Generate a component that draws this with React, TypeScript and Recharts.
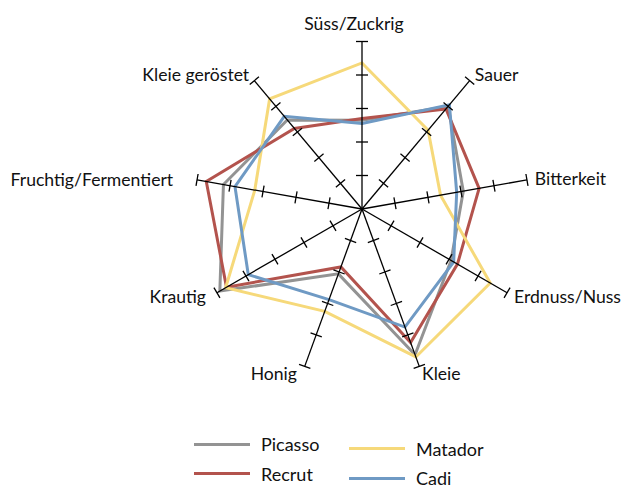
import { RadarChart, Radar, PolarAngleAxis, PolarRadiusAxis, Legend } from "recharts";

const AXES = [
  "Süss/Zuckrig",
  "Sauer",
  "Bitterkeit",
  "Erdnuss/Nuss",
  "Kleie",
  "Honig",
  "Krautig",
  "Fruchtig/Fermentiert",
  "Kleie geröstet",
];

const PICASSO = [2.65, 4.0, 3.07, 3.07, 4.63, 2.06, 4.9, 4.2, 3.47];
const RECRUT = [2.7, 3.9, 3.55, 3.29, 4.24, 1.84, 4.67, 4.72, 3.14];
const MATADOR = [4.36, 3.07, 2.38, 4.42, 4.7, 3.25, 4.7, 3.25, 4.29];
const CADI = [2.55, 4.06, 2.87, 3.16, 3.75, 2.88, 3.92, 3.85, 3.61];

const SERIES = [
  { key: "Picasso", color: "#939393" },
  { key: "Recrut", color: "#b3534d" },
  { key: "Matador", color: "#f6d97a" },
  { key: "Cadi", color: "#6f9ac4" },
];

const data = AXES.map((axis, i) => ({
  axis,
  Picasso: PICASSO[i],
  Recrut: RECRUT[i],
  Matador: MATADOR[i],
  Cadi: CADI[i],
}));

const FONT = "Lato, 'Liberation Sans', sans-serif";

// small label nudges, the original places some labels a bit off the spoke end
const NUDGE: Record<string, [number, number]> = {
  "Süss/Zuckrig": [-8, 0],
  "Fruchtig/Fermentiert": [-16, 1],
  Krautig: [-4, 0],
  Honig: [-5, 0],
};

// eslint-disable-next-line @typescript-eslint/no-explicit-any
function AngleTick({ x, y, textAnchor, payload }: any) {
  const [dx, dy] = NUDGE[payload.value] ?? [0, 0];
  const top = textAnchor === "middle" && y < 209;
  return (
    <text
      x={x + dx}
      y={top ? y - 4 + dy : y + dy}
      textAnchor={textAnchor}
      dominantBaseline={top ? "auto" : "central"}
      fontFamily={FONT}
      fontSize={17.6}
      fill="#111"
    >
      {payload.value}
    </text>
  );
}

function makeSpokeTick(angle: number) {
  const rad = (angle * Math.PI) / 180;
  // perpendicular to the spoke, in screen coords
  const px = Math.sin(rad);
  const py = Math.cos(rad);
  const h = 6;
  // eslint-disable-next-line @typescript-eslint/no-explicit-any
  return function SpokeTick({ x, y, payload }: any) {
    if (payload.value === 0) return <g />;
    return (
      <line
        x1={x - px * h}
        y1={y - py * h}
        x2={x + px * h}
        y2={y + py * h}
        stroke="#000"
        strokeWidth={1.3}
      />
    );
  };
}

function LegendBox() {
  return (
    <div style={{ position: "relative", width: 628, height: 61 }}>
      {SERIES.map((s, i) => {
        const col = Math.floor(i / 2);
        const row = i % 2;
        const left = col === 0 ? 194 : 349;
        const top = row * 29.5 + (col === 0 ? 0 : 4.5);
        return (
          <div
            key={s.key}
            style={{
              position: "absolute",
              left,
              top,
              display: "flex",
              alignItems: "center",
              height: 22,
              fontFamily: FONT,
              fontSize: 18,
              color: "#111",
            }}
          >
            <span
              style={{
                display: "inline-block",
                width: 56,
                height: 3,
                background: s.color,
                marginRight: 11,
              }}
            />
            {s.key}
          </div>
        );
      })}
    </div>
  );
}

export default function App() {
  const angles = AXES.map((_, i) => 90 - 40 * i);
  return (
    <div style={{ position: "absolute", left: 0, top: 0, width: 628, height: 486, background: "#fff", overflow: "hidden" }}>
      <RadarChart
        width={628}
        height={486}
        data={data}
        cx={362}
        cy={209}
        outerRadius={167.5}
        margin={{ top: 0, right: 0, bottom: 0, left: 0 }}
      >
        <PolarAngleAxis
          dataKey="axis"
          axisLine={false}
          tickLine={false}
          tick={<AngleTick />}
        />
        {angles.map((a, i) => (
          <PolarRadiusAxis
            key={i}
            radiusAxisId={i}
            angle={a}
            type="number"
            domain={[0, 5]}
            tickCount={6}
            axisLine={{ stroke: "#000", strokeWidth: 1.3 }}
            tick={makeSpokeTick(a)}
          />
        ))}
        {/* invisible series so that every spoke axis gets its own scale */}
        {angles.slice(1).map((_, i) => (
          <Radar
            key={"spoke" + i}
            name={"spoke" + i}
            dataKey="Picasso"
            radiusAxisId={i + 1}
            stroke="none"
            fill="none"
            fillOpacity={0}
            dot={false}
            legendType="none"
            isAnimationActive={false}
          />
        ))}
        {SERIES.map((s) => (
          <Radar
            key={s.key}
            name={s.key}
            dataKey={s.key}
            radiusAxisId={0}
            stroke={s.color}
            strokeWidth={3}
            fill="none"
            fillOpacity={0}
            dot={false}
            isAnimationActive={false}
          />
        ))}
        <Legend
          content={<LegendBox />}
          wrapperStyle={{ position: "absolute", left: 0, top: 433, width: 628 }}
        />
      </RadarChart>
    </div>
  );
}
